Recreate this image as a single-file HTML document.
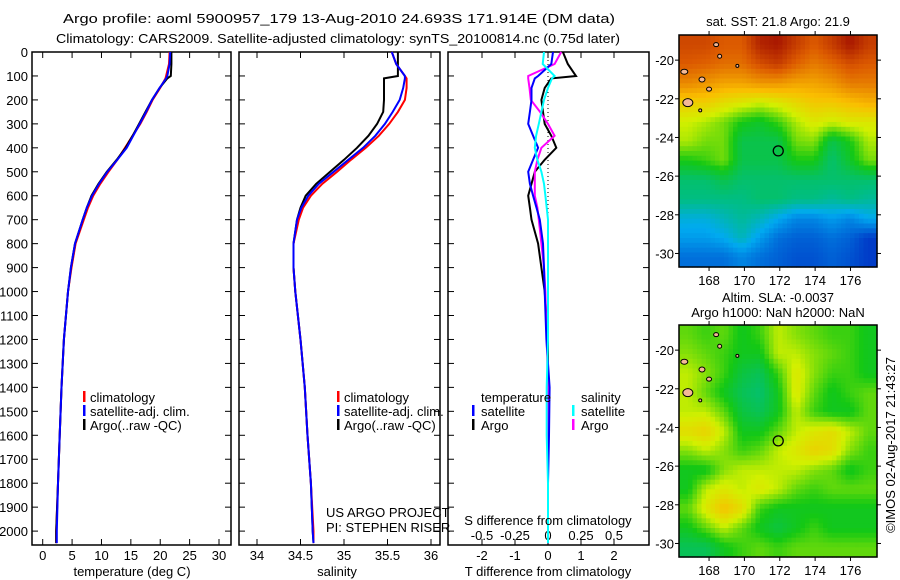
<!DOCTYPE html>
<html><head><meta charset="utf-8">
<style>
body{margin:0;background:#fff;}
svg{display:block;font-family:"Liberation Sans",sans-serif;}
text{fill:#000;font-size:13px;}
</style></head>
<body>
<svg id="fig" width="900" height="580" xmlns="http://www.w3.org/2000/svg">
<text x="63" y="23" textLength="552" lengthAdjust="spacingAndGlyphs" font-size="15">Argo profile: aoml 5900957_179 13-Aug-2010 24.693S 171.914E (DM data)</text>
<text x="56" y="43" textLength="564" lengthAdjust="spacingAndGlyphs" font-size="15">Climatology: CARS2009. Satellite-adjusted climatology: synTS_20100814.nc (0.75d later)</text>
<g id="g"></g>
</svg>
<script>
// ---- data ----
const depthAxisTicks=[0,100,200,300,400,500,600,700,800,900,1000,1100,1200,1300,1400,1500,1600,1700,1800,1900,2000];
const tempTicks=[0,5,10,15,20,25,30];
const salTicks=[34,34.5,35,35.5,36];
const tdiffTicks=[-2,-1,0,1,2];
const sdiffTicks=[-0.5,-0.25,0,0.25,0.5];
const sdiffTickLabels=["-0.5","-0.25","0","0.25","0.5"];
const depths=[0,50,100,110,150,200,250,300,350,400,450,500,550,600,650,700,800,900,1000,1200,1400,1600,1800,2000,2050];
const tempArgo=[21.9,21.9,21.8,21.2,19.9,18.6,17.5,16.4,15.3,14.1,12.6,10.9,9.5,8.3,7.5,6.8,5.5,4.8,4.3,3.6,3.2,2.9,2.6,2.3,2.3];
const tempClim=[21.6,21.5,21.0,20.9,20.0,18.7,17.7,16.6,15.3,14.0,12.7,11.2,9.8,8.6,7.7,7.0,5.6,4.9,4.3,3.6,3.2,2.9,2.6,2.3,2.3];
const tempSat=[21.7,21.6,21.2,21.0,19.9,18.6,17.6,16.5,15.4,14.3,12.7,11.0,9.6,8.4,7.5,6.8,5.5,4.8,4.3,3.6,3.2,2.9,2.6,2.4,2.4];
const salArgo=[35.62,35.62,35.62,35.46,35.46,35.46,35.45,35.38,35.28,35.15,35.0,34.84,34.68,34.56,34.5,34.46,34.42,34.42,34.44,34.5,34.55,34.58,34.62,34.64,34.65];
const salClim=[35.55,35.6,35.7,35.72,35.72,35.7,35.62,35.52,35.4,35.25,35.08,34.92,34.75,34.62,34.53,34.48,34.42,34.42,34.44,34.5,34.55,34.58,34.62,34.65,34.65];
const salSat=[35.55,35.6,35.7,35.7,35.68,35.64,35.56,35.47,35.36,35.22,35.05,34.88,34.71,34.59,34.51,34.46,34.42,34.42,34.44,34.5,34.55,34.58,34.62,34.64,34.65];
const tdiffArgo=[0.45,0.6,0.85,0.1,-0.1,-0.2,-0.15,-0.1,0.1,0.25,-0.1,-0.4,-0.5,-0.6,-0.55,-0.5,-0.3,-0.2,-0.1,0,0,0,0,0,0];
const tdiffSat=[0.15,0.1,-0.3,-0.4,-0.5,-0.5,-0.55,-0.6,-0.45,-0.3,-0.45,-0.6,-0.55,-0.45,-0.35,-0.25,-0.15,-0.12,-0.1,-0.05,0.05,0.03,0,0,0];
const sdiffArgo=[0.1,0.05,-0.15,-0.15,-0.14,-0.13,-0.06,0.0,0.05,-0.05,-0.08,-0.1,-0.1,-0.1,-0.08,-0.07,-0.05,-0.03,-0.02,-0.01,0,0,0,0,0];
const sdiffSat=[-0.03,-0.04,0.05,0.03,0.0,-0.03,-0.05,-0.07,-0.09,-0.1,-0.08,-0.05,-0.03,-0.02,-0.01,0,0,0,0,0,-0.01,-0.01,0,0,0];
const mapLatTicks=[-20,-22,-24,-26,-28,-30];
const mapLonTicks=[168,170,172,174,176];
const sstGrid=[
[.88,.88,.85,.85,.94,.96,.9,.85,.9,.96,.9],
[.85,.84,.82,.82,.87,.9,.84,.8,.83,.87,.85],
[.78,.76,.74,.74,.76,.76,.74,.74,.76,.8,.8],
[.67,.67,.64,.62,.6,.62,.65,.68,.68,.7,.72],
[.6,.58,.55,.5,.48,.52,.58,.62,.6,.62,.62],
[.58,.55,.55,.45,.45,.45,.55,.56,.45,.5,.58],
[.5,.52,.55,.45,.45,.45,.5,.5,.42,.48,.55],
[.42,.42,.45,.42,.42,.42,.42,.42,.42,.42,.42],
[.4,.4,.4,.4,.42,.42,.4,.4,.38,.4,.38],
[.32,.32,.35,.38,.35,.3,.25,.25,.28,.25,.3],
[.28,.28,.3,.35,.28,.22,.2,.2,.22,.2,.15],
[.22,.22,.22,.25,.22,.2,.18,.18,.2,.18,.15]];
const slaGrid=[
[.54,.52,.54,.49,.52,.59,.56,.54,.52,.52,.49],
[.56,.54,.52,.49,.49,.59,.59,.56,.54,.52,.49],
[.59,.56,.52,.46,.44,.52,.62,.56,.52,.52,.49],
[.59,.54,.49,.44,.42,.49,.62,.54,.49,.52,.54],
[.59,.59,.54,.46,.44,.49,.59,.52,.49,.49,.54],
[.64,.66,.59,.49,.49,.54,.59,.62,.64,.59,.54],
[.56,.59,.56,.52,.54,.59,.62,.66,.64,.56,.52],
[.49,.49,.56,.59,.59,.59,.59,.56,.54,.49,.52],
[.49,.59,.62,.59,.62,.59,.54,.52,.54,.54,.54],
[.54,.62,.69,.64,.52,.49,.49,.49,.49,.49,.49],
[.49,.54,.59,.54,.49,.46,.49,.52,.49,.49,.49],
[.44,.44,.49,.52,.54,.52,.54,.54,.54,.54,.54]];
const argoLon=171.914, argoLat=-24.693;

// ---- helpers ----
const NS="http://www.w3.org/2000/svg";
const G=document.getElementById('g');
function mk(t,a,p){const e=document.createElementNS(NS,t);for(const k in a)e.setAttribute(k,a[k]);(p||G).appendChild(e);return e;}
const TOP=52,BOT=545,DMAX=2058;
const yD=d=>TOP+d*(BOT-TOP)/DMAX;
function lin(d0,d1,r0,r1){return v=>r0+(v-d0)*(r1-r0)/(d1-d0);}
const panels=[[32,231],[239,440],[448,649]];
panels.forEach((p,i)=>{
  const r=mk('rect',{x:p[0],y:TOP,width:p[1]-p[0],height:BOT-TOP,fill:'none',stroke:'#000','stroke-width':1.5});
  
  
  depthAxisTicks.forEach(d=>{
    const y=yD(d);
    const t1=mk('line',{x1:p[0],x2:p[0]+6,y1:y,y2:y,stroke:'#000'});
    
    
    const t2=mk('line',{x1:p[1]-6,x2:p[1],y1:y,y2:y,stroke:'#000'});
    
    
  });
});
depthAxisTicks.forEach(d=>{
  const t=mk('text',{x:28,y:yD(d)+5,'text-anchor':'end'});t.textContent=d;
  
  
});
function xticks(p,sc,ticks,labels,ly,name){
  ticks.forEach((v,i)=>{const x=sc(v);
    const a=mk('line',{x1:x,x2:x,y1:BOT-6,y2:BOT,stroke:'#000'});
    
    
    const b=mk('line',{x1:x,x2:x,y1:TOP,y2:TOP+6,stroke:'#000'});
    
    
    const t=mk('text',{x:x,y:ly,'text-anchor':'middle'});t.textContent=labels?labels[i]:v;
    
    
  });
}
const xT=lin(0,30,42.7,219), xS=lin(34,36,257,431), xTD=lin(0,2,548,614), xSD=lin(0,0.5,548,614);
xticks(panels[0],xT,tempTicks,null,560,'temperature');
xticks(panels[1],xS,salTicks,null,560,'salinity');
xticks(panels[2],xTD,tdiffTicks,null,560,'tdiff');
sdiffTicks.forEach((v,i)=>{const t=mk('text',{x:xSD(v),y:540,'text-anchor':'middle'});t.textContent=sdiffTickLabels[i];
  
  });
function line(vals,sc,col,name){
  const pts=vals.map((v,i)=>sc(v).toFixed(1)+','+yD(depths[i]).toFixed(1)).join(' ');
  const l=mk('polyline',{points:pts,fill:'none',stroke:col,'stroke-width':2});
  
  
}
line(tempClim,xT,'#f00','temp-climatology-line');
line(tempArgo,xT,'#000','temp-argo-line');
line(tempSat,xT,'#00f','temp-satellite-line');
line(salArgo,xS,'#000','sal-argo-line');
line(salClim,xS,'#f00','sal-climatology-line');
line(salSat,xS,'#00f','sal-satellite-line');
const zl=mk('line',{x1:548,x2:548,y1:TOP,y2:BOT,stroke:'#000','stroke-dasharray':'1,3'});


line(tdiffArgo,xTD,'#000','tdiff-argo-line');
line(sdiffArgo,xSD,'#f0f','sdiff-argo-line');
line(tdiffSat,xTD,'#00f','tdiff-satellite-line');
line(sdiffSat,xSD,'#0ff','sdiff-satellite-line');

// ---- colormap & maps ----
function jet(v){
  const st=[[0,[0,0,140]],[.15,[0,60,200]],[.3,[0,170,240]],[.4,[0,190,130]],[.5,[20,200,20]],[.6,[210,240,0]],[.7,[250,190,0]],[.85,[220,90,0]],[1,[150,0,0]]];
  v=Math.max(0,Math.min(1,v));
  for(let i=1;i<st.length;i++){if(v<=st[i][0]){const a=st[i-1],b=st[i],f=(v-a[0])/(b[0]-a[0]);
    return 'rgb('+a[1].map((c,k)=>Math.round(c+(b[1][k]-c)*f)).join(',')+')';}}
}
function drawMap(grid,top,name){
  const L=679,R=877,B=top+232;
  const lonX=lin(166.3,177.5,L,R), latY=lin(-18.7,-30.7,top,B);
  const g=mk('g',{});
  const nr=grid.length,nc=grid[0].length,sub=4;
  const cw=(R-L)/(nc*sub), ch=(B-top)/(nr*sub);
  for(let r=0;r<nr*sub;r++)for(let c=0;c<nc*sub;c++){
    const fr=Math.max(0,Math.min(nr-1,(r+.5)/sub-.5)), fc=Math.max(0,Math.min(nc-1,(c+.5)/sub-.5));
    const r0=Math.floor(fr),c0=Math.floor(fc),r1=Math.min(nr-1,r0+1),c1=Math.min(nc-1,c0+1),a=fr-r0,b=fc-c0;
    const v=grid[r0][c0]*(1-a)*(1-b)+grid[r0][c1]*(1-a)*b+grid[r1][c0]*a*(1-b)+grid[r1][c1]*a*b;
    mk('rect',{x:(L+c*cw).toFixed(2),y:(top+r*ch).toFixed(2),width:(cw+.6).toFixed(2),height:(ch+.6).toFixed(2),fill:jet(v)},g);
  }
  [[168.4,-19.2,2.5,2],[168.6,-19.8,2,2],[169.6,-20.3,1.5,1.5],[166.6,-20.6,3.5,2.5],[167.6,-21.0,3,2.5],[168.0,-21.5,2.5,2],[166.8,-22.2,5,4],[167.5,-22.6,1.5,1.5]].forEach(s=>{
    const e=mk('ellipse',{cx:lonX(s[0]),cy:latY(s[1]),rx:s[2],ry:s[3],fill:'#f4b896',stroke:'#000','stroke-width':1},g);
    
    
  });
  const fr=mk('rect',{x:L,y:top,width:R-L,height:B-top,fill:'none',stroke:'#000','stroke-width':1.5});
  
  
  const c=mk('circle',{cx:lonX(argoLon),cy:latY(argoLat),r:5,fill:'none',stroke:'#000','stroke-width':1.3});
  
  
  mapLatTicks.forEach(v=>{const y=latY(v);
    mk('line',{x1:L-4,x2:L,y1:y,y2:y,stroke:'#000'});mk('line',{x1:R,x2:R+4,y1:y,y2:y,stroke:'#000'});
    const t=mk('text',{x:L-5,y:y+5,'text-anchor':'end'});t.textContent=v;
    
    });
  mapLonTicks.forEach(v=>{const x=lonX(v);
    mk('line',{x1:x,x2:x,y1:top-4,y2:top,stroke:'#000'});mk('line',{x1:x,x2:x,y1:B,y2:B+4,stroke:'#000'});
    const t=mk('text',{x:x,y:B+18,'text-anchor':'middle'});t.textContent=v;
    
    });
}
drawMap(sstGrid,35,'sst-map');
drawMap(slaGrid,325,'sla-map');
</script>
<svg width="900" height="580" style="position:absolute;left:0;top:0" xmlns="http://www.w3.org/2000/svg">
<g>
<rect x="83" y="391" width="2.5" height="11" fill="#f00"/><text x="90" y="402">climatology</text>
<rect x="83" y="405" width="2.5" height="11" fill="#00f"/><text x="90" y="416">satellite-adj. clim.</text>
<rect x="83" y="419" width="2.5" height="11" fill="#000"/><text x="90" y="430">Argo(..raw -QC)</text>
</g>
<g>
<rect x="337" y="391" width="2.5" height="11" fill="#f00"/><text x="344" y="402">climatology</text>
<rect x="337" y="405" width="2.5" height="11" fill="#00f"/><text x="344" y="416">satellite-adj. clim.</text>
<rect x="337" y="419" width="2.5" height="11" fill="#000"/><text x="344" y="430">Argo(..raw -QC)</text>
</g>
<g>
<text x="481" y="402">temperature</text><text x="581" y="402">salinity</text>
<rect x="472" y="405" width="2.5" height="11" fill="#00f"/><text x="481" y="416">satellite</text>
<rect x="472" y="419" width="2.5" height="11" fill="#000"/><text x="481" y="430">Argo</text>
<rect x="572" y="405" width="2.5" height="11" fill="#0ff"/><text x="581" y="416">satellite</text>
<rect x="572" y="419" width="2.5" height="11" fill="#f0f"/><text x="581" y="430">Argo</text>
</g>
<text x="326" y="517">US ARGO PROJECT</text>
<text x="326" y="532">PI: STEPHEN RISER</text>
<text x="548" y="525" text-anchor="middle">S difference from climatology</text>
<text x="132" y="576" text-anchor="middle">temperature (deg C)</text>
<text x="337" y="576" text-anchor="middle">salinity</text>
<text x="548" y="576" text-anchor="middle">T difference from climatology</text>
<text x="778" y="26" text-anchor="middle">sat. SST: 21.8 Argo: 21.9</text>
<text x="778" y="302" text-anchor="middle">Altim. SLA: -0.0037</text>
<text x="778" y="317" text-anchor="middle">Argo h1000: NaN h2000: NaN</text>
<text x="0" y="0" transform="translate(895,445) rotate(-90)" text-anchor="middle">©IMOS 02-Aug-2017 21:43:27</text>
</svg>
</body></html>
